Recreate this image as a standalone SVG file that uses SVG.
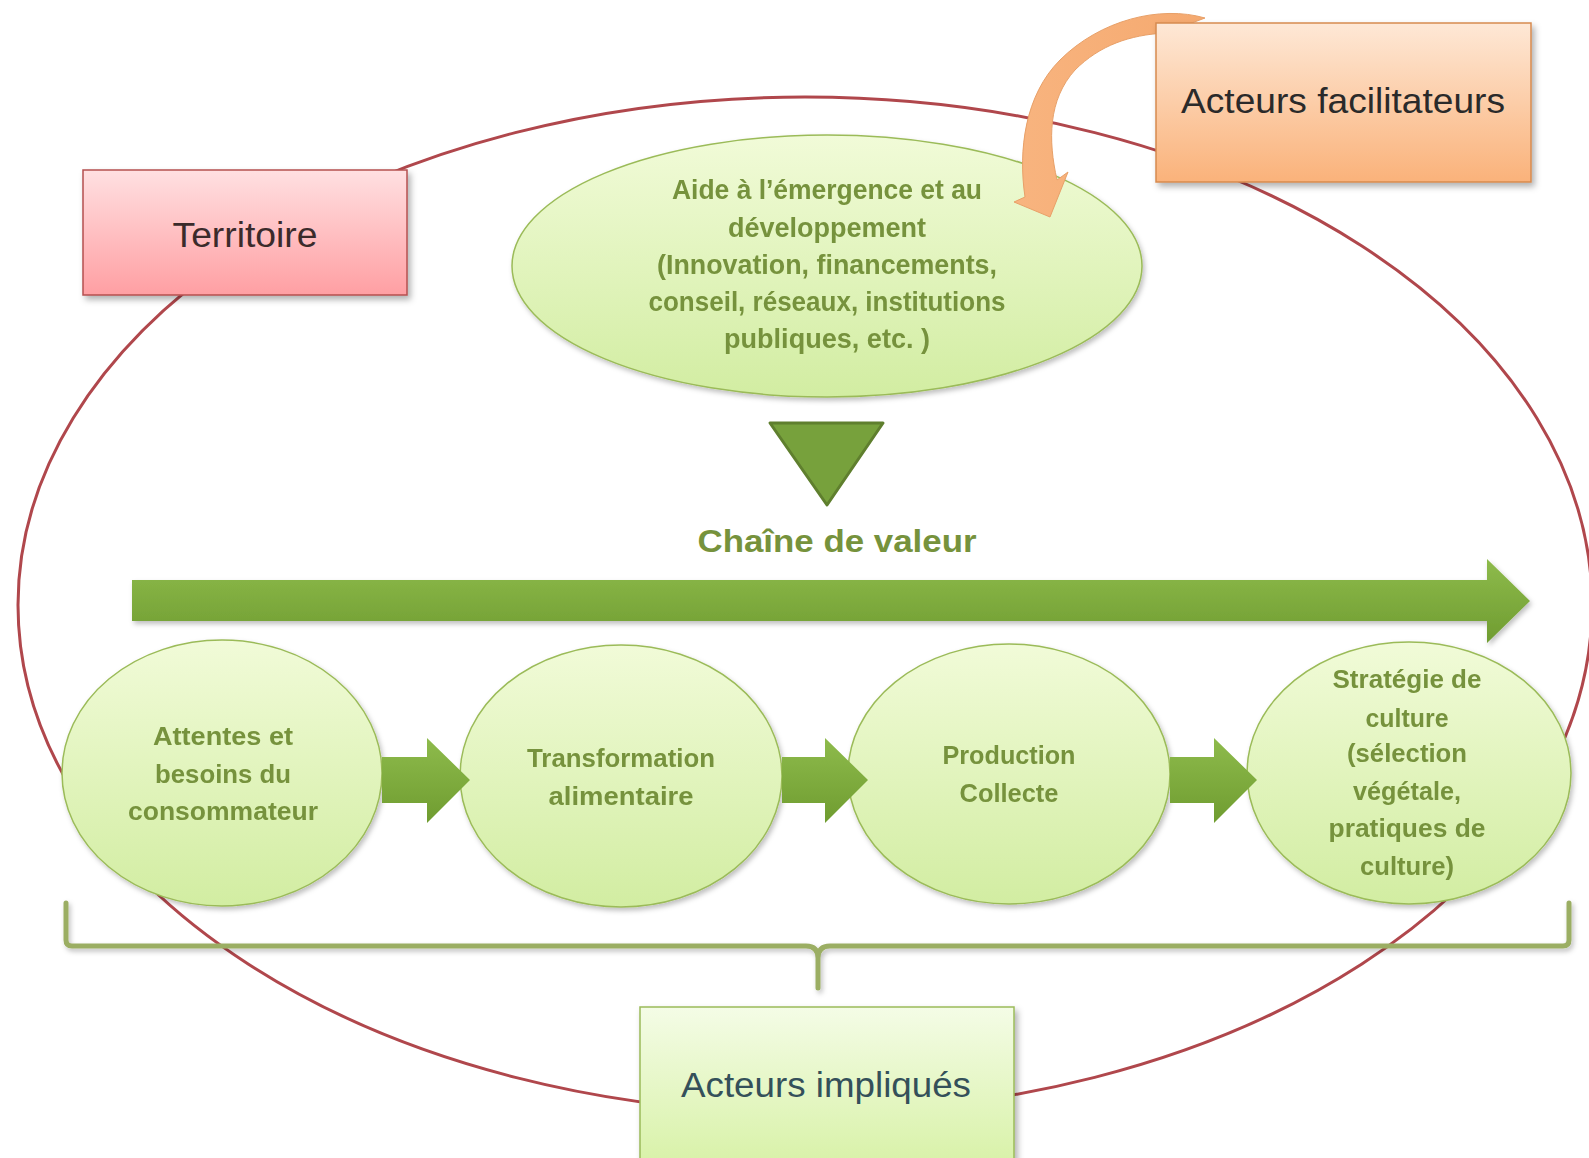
<svg xmlns="http://www.w3.org/2000/svg" width="1589" height="1158" viewBox="0 0 1589 1158">
<defs>
<linearGradient id="gGreen" x1="0" y1="0" x2="0" y2="1"><stop offset="0" stop-color="#f1fbd8"/><stop offset="1" stop-color="#d2eda2"/></linearGradient>
<linearGradient id="gPink" x1="0" y1="0" x2="0" y2="1"><stop offset="0" stop-color="#ffe0e1"/><stop offset="1" stop-color="#ff9fa3"/></linearGradient>
<linearGradient id="gOrange" x1="0" y1="0" x2="0" y2="1"><stop offset="0" stop-color="#fee8d6"/><stop offset="1" stop-color="#fab27a"/></linearGradient>
<linearGradient id="gLight" x1="0" y1="0" x2="0" y2="1"><stop offset="0" stop-color="#f4fce6"/><stop offset="1" stop-color="#d6f1a3"/></linearGradient>
<linearGradient id="gArrow" x1="0" y1="0" x2="0" y2="1"><stop offset="0" stop-color="#8ebb4c"/><stop offset="1" stop-color="#6f9c30"/></linearGradient>
<linearGradient id="gOrArrow" x1="0" y1="0" x2="1" y2="0"><stop offset="0" stop-color="#f8b47f"/><stop offset="1" stop-color="#f5a96f"/></linearGradient>
<filter id="sh" x="-10%" y="-10%" width="130%" height="130%"><feDropShadow dx="3" dy="4" stdDeviation="3" flood-color="#000" flood-opacity="0.3"/></filter>
<filter id="shs" x="-10%" y="-10%" width="130%" height="130%"><feDropShadow dx="2" dy="3" stdDeviation="2.5" flood-color="#000" flood-opacity="0.25"/></filter>
</defs>
<style>
.gt{font-family:"Liberation Sans",Arial,sans-serif;font-weight:bold;fill:#76923c;text-anchor:middle;font-size:26px}
.tt{font-family:"Liberation Sans",Arial,sans-serif;font-weight:bold;fill:#76923c;text-anchor:middle;font-size:27px}
.bt{font-family:"Liberation Sans",Arial,sans-serif;text-anchor:middle;font-size:35px}
.node{fill:url(#gGreen);stroke:#9bbb59;stroke-width:1.5}
</style>
<rect width="1589" height="1158" fill="#ffffff"/>

<g id="territoire-boundary">
<ellipse cx="805" cy="605" rx="787" ry="508" fill="none" stroke="#b0474c" stroke-width="3"/>
</g>

<g id="node-aide" filter="url(#shs)">
<ellipse class="node" cx="827" cy="266" rx="315" ry="131"/>
<text class="tt" x="827" y="199" textLength="310" lengthAdjust="spacingAndGlyphs">Aide à l’émergence et au</text>
<text class="tt" x="827" y="237" textLength="198" lengthAdjust="spacingAndGlyphs">développement</text>
<text class="tt" x="827" y="274" textLength="340" lengthAdjust="spacingAndGlyphs">(Innovation, financements,</text>
<text class="tt" x="827" y="311" textLength="357" lengthAdjust="spacingAndGlyphs">conseil, réseaux, institutions</text>
<text class="tt" x="827" y="348" textLength="206" lengthAdjust="spacingAndGlyphs">publiques, etc. )</text>
</g>

<g id="node-attentes" filter="url(#shs)">
<ellipse class="node" cx="222" cy="773" rx="160" ry="133"/>
<text class="gt" x="223" y="745" textLength="140" lengthAdjust="spacingAndGlyphs">Attentes et</text>
<text class="gt" x="223" y="783" textLength="136" lengthAdjust="spacingAndGlyphs">besoins du</text>
<text class="gt" x="223" y="820" textLength="190" lengthAdjust="spacingAndGlyphs">consommateur</text>
</g>

<g id="node-transformation" filter="url(#shs)">
<ellipse class="node" cx="621" cy="776" rx="161" ry="131"/>
<text class="gt" x="621" y="767" textLength="188" lengthAdjust="spacingAndGlyphs">Transformation</text>
<text class="gt" x="621" y="805" textLength="145" lengthAdjust="spacingAndGlyphs">alimentaire</text>
</g>

<g id="node-production" filter="url(#shs)">
<ellipse class="node" cx="1009" cy="774" rx="161" ry="130"/>
<text class="gt" x="1009" y="764" textLength="133" lengthAdjust="spacingAndGlyphs">Production</text>
<text class="gt" x="1009" y="802" textLength="99" lengthAdjust="spacingAndGlyphs">Collecte</text>
</g>

<g id="node-strategie" filter="url(#shs)">
<ellipse class="node" cx="1409" cy="773" rx="162" ry="131"/>
<text class="gt" x="1407" y="688" textLength="149" lengthAdjust="spacingAndGlyphs">Stratégie de</text>
<text class="gt" x="1407" y="727" textLength="83" lengthAdjust="spacingAndGlyphs">culture</text>
<text class="gt" x="1407" y="762" textLength="120" lengthAdjust="spacingAndGlyphs">(sélection</text>
<text class="gt" x="1407" y="800" textLength="108" lengthAdjust="spacingAndGlyphs">végétale,</text>
<text class="gt" x="1407" y="837" textLength="157" lengthAdjust="spacingAndGlyphs">pratiques de</text>
<text class="gt" x="1407" y="875" textLength="94" lengthAdjust="spacingAndGlyphs">culture)</text>
</g>

<g id="connectors">
<path d="M66,903 V940 Q66,946 72,946 H806 Q818,946 818,958 V988 M818,958 Q818,946 830,946 H1563 Q1569,946 1569,940 V903" fill="none" stroke="#9bae63" stroke-width="5" stroke-linecap="round" stroke-linejoin="round" filter="url(#shs)"/>
<polygon points="132,580 1487,580 1487,559 1530,601 1487,643 1487,621 132,621" fill="url(#gArrow)" filter="url(#shs)"/>
<polygon points="770,423 883,423 827,505" fill="#77a13c" stroke="#5f7f2e" stroke-width="3" stroke-linejoin="round"/>
<polygon points="382,757 427,757 427,738 470,780 427,823 427,803 382,803" fill="url(#gArrow)"/>
<polygon points="782,757 825,757 825,738 868,780 825,823 825,803 782,803" fill="url(#gArrow)"/>
<polygon points="1170,757 1214,757 1214,738 1257,780 1214,823 1214,803 1170,803" fill="url(#gArrow)"/>
<path d="M1205,18 C1160,5 1100,20 1060,60 C1025,95 1018,150 1025,197 L1014,202 L1050,217 L1068,172 L1057,180 C1048,140 1048,100 1075,70 C1100,45 1130,35 1165,33 Z" fill="url(#gOrArrow)" stroke="#e8a068" stroke-width="1"/>
<text x="837" y="552" font-family="Liberation Sans, Arial, sans-serif" font-weight="bold" font-size="32" fill="#76923c" text-anchor="middle" textLength="279" lengthAdjust="spacingAndGlyphs">Chaîne de valeur</text>
</g>

<g id="node-territoire">
<rect x="83" y="170" width="324" height="125" fill="url(#gPink)" stroke="#b5504f" stroke-width="1.5" filter="url(#sh)"/>
<text class="bt" x="245" y="247" fill="#3b2b2b" textLength="145" lengthAdjust="spacingAndGlyphs">Territoire</text>
</g>

<g id="node-facilitateurs">
<rect x="1156" y="23" width="375" height="159" fill="url(#gOrange)" stroke="#d68a4f" stroke-width="1.5" filter="url(#sh)"/>
<text class="bt" x="1343" y="113" fill="#2a2a2a" textLength="324" lengthAdjust="spacingAndGlyphs">Acteurs facilitateurs</text>
</g>

<g id="node-impliques">
<rect x="640" y="1007" width="374" height="170" fill="url(#gLight)" stroke="#9bbb59" stroke-width="1.5" filter="url(#sh)"/>
<text class="bt" x="826" y="1097" fill="#34505a" font-size="34" textLength="290" lengthAdjust="spacingAndGlyphs">Acteurs impliqués</text>
</g>
</svg>
